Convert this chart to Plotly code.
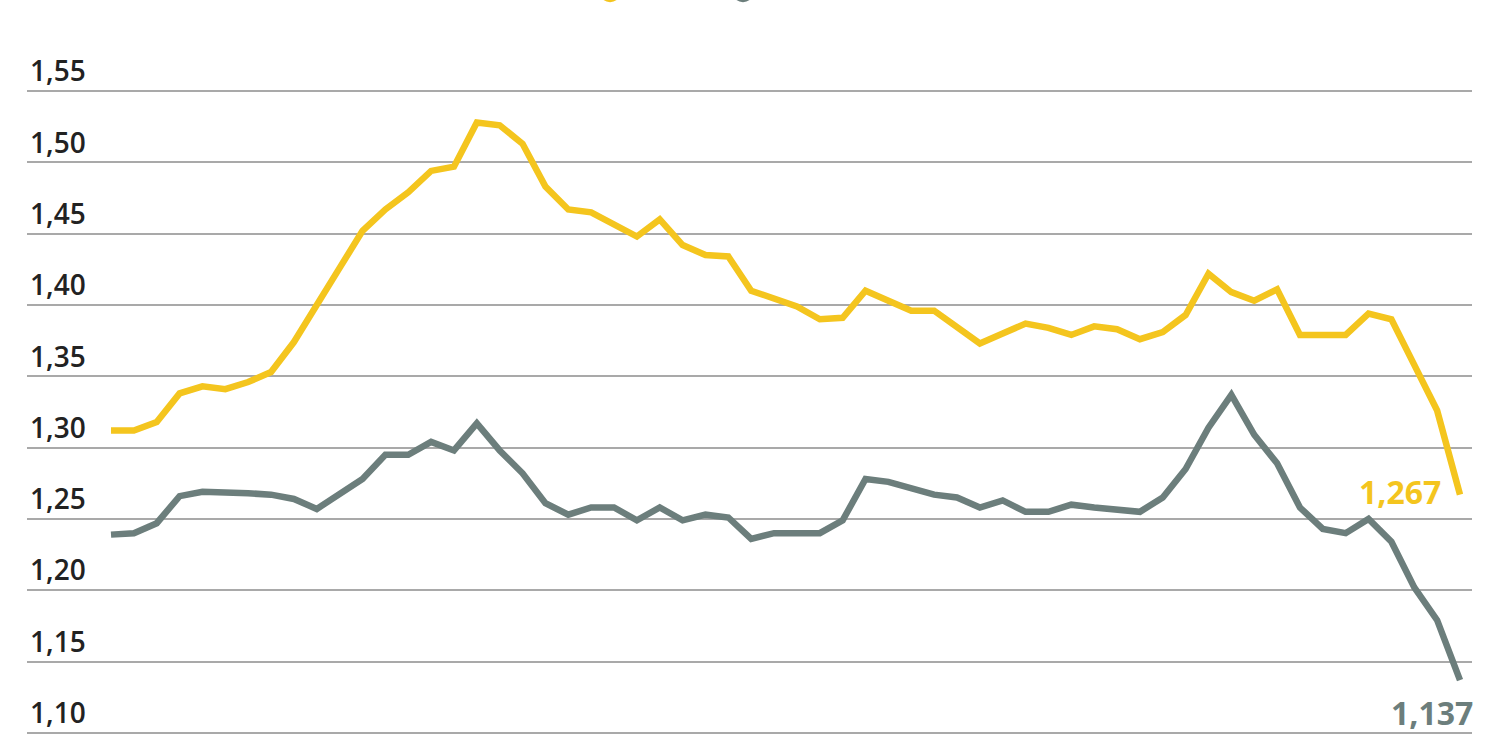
import plotly.graph_objects as go

# monthly series (60 points each)
yellow = [1.312, 1.312, 1.318, 1.338, 1.343, 1.341, 1.346, 1.353, 1.374, 1.399,
          1.426, 1.452, 1.467, 1.479, 1.494, 1.497, 1.528, 1.526, 1.513, 1.483,
          1.467, 1.465, 1.457, 1.448, 1.460, 1.442, 1.435, 1.434, 1.410, 1.405,
          1.399, 1.390, 1.391, 1.410, 1.403, 1.396, 1.396, 1.385, 1.373, 1.380,
          1.387, 1.384, 1.379, 1.385, 1.383, 1.376, 1.381, 1.393, 1.422, 1.409,
          1.403, 1.411, 1.379, 1.379, 1.379, 1.394, 1.390, 1.358, 1.326, 1.267]
grey = [1.239, 1.240, 1.247, 1.266, 1.269, 1.269, 1.268, 1.267, 1.264, 1.257,
        1.268, 1.278, 1.295, 1.295, 1.304, 1.298, 1.317, 1.298, 1.282, 1.261,
        1.253, 1.258, 1.258, 1.249, 1.258, 1.249, 1.253, 1.251, 1.236, 1.240,
        1.240, 1.240, 1.249, 1.278, 1.276, 1.272, 1.267, 1.265, 1.258, 1.263,
        1.255, 1.255, 1.260, 1.258, 1.257, 1.255, 1.265, 1.285, 1.314, 1.337,
        1.309, 1.289, 1.258, 1.243, 1.240, 1.250, 1.234, 1.202, 1.179, 1.137]
y_ticks = [1.10, 1.15, 1.20, 1.25, 1.30, 1.35, 1.40, 1.45, 1.50, 1.55]

YELLOW = "#F4C51E"
GREY = "#6C7E7C"
months = list(range(len(yellow)))


def de(v, d):
    return f"{v:.{d}f}".replace(".", ",")


fig = go.Figure()
fig.add_trace(go.Scatter(x=months, y=grey, mode="lines",
                         line=dict(color=GREY, width=6.5), showlegend=False))
fig.add_trace(go.Scatter(x=months, y=yellow, mode="lines",
                         line=dict(color=YELLOW, width=6.5), showlegend=False))

# end labels
fig.add_annotation(x=months[-1], y=yellow[-1], text=f"<b>{de(yellow[-1], 3)}</b>",
                   showarrow=False, xanchor="right", yanchor="middle",
                   xshift=-17, yshift=3,
                   font=dict(family="Open Sans", size=32, color=YELLOW))
fig.add_annotation(x=months[-1], y=grey[-1], text=f"<b>{de(grey[-1], 3)}</b>",
                   showarrow=False, xanchor="right", yanchor="middle",
                   xshift=15, yshift=-32,
                   font=dict(family="Open Sans", size=32, color=GREY))

# legend dots, cut off at the top edge
for xp, col in [(0.4035, YELLOW), (0.4955, GREY)]:
    fig.add_shape(type="circle", xref="paper", yref="paper",
                  xsizemode="pixel", ysizemode="pixel",
                  xanchor=xp, yanchor=1.0607,
                  x0=-11, x1=11, y0=-11, y1=11,
                  fillcolor=col, line=dict(width=0))

fig.update_layout(
    width=1500, height=750,
    paper_bgcolor="white", plot_bgcolor="white",
    margin=dict(l=27, r=28, t=34, b=10),
    xaxis=dict(range=[-3.674, 59.525], showgrid=False, zeroline=False,
               showticklabels=False, ticks=""),
    yaxis=dict(range=[1.095, 1.59], tickvals=y_ticks,
               ticktext=[de(v, 2) for v in y_ticks],
               ticklabelposition="inside top",
               showgrid=True, gridcolor="#A9A9A9", gridwidth=2,
               zeroline=False, showline=False, ticks="",
               tickfont=dict(family="Open Sans", size=28, color="#222222",
                             weight=600)),
)

# drop the browser's default body margin so the figure sits at the page corner
fig.write_html("out.html", config={"displayModeBar": False},
               post_script="document.body.style.margin='0';")
